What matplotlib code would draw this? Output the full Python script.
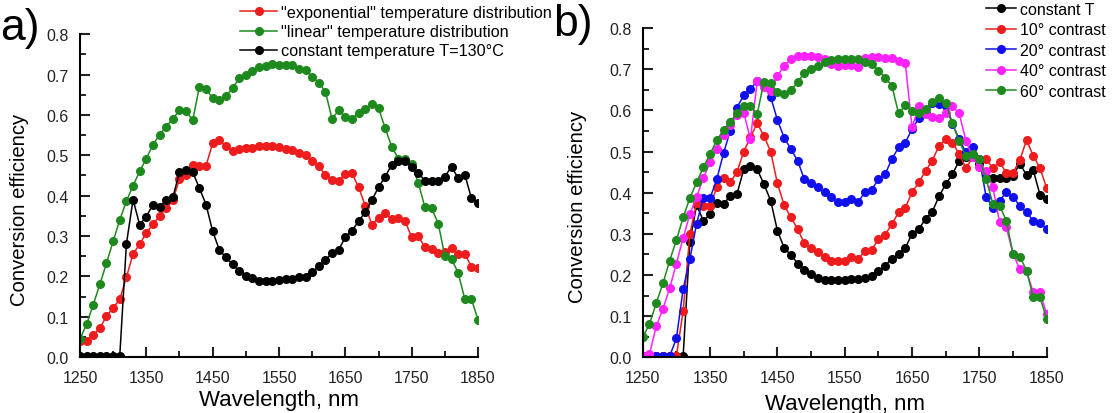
import numpy as np
import matplotlib
matplotlib.use("Agg")
import matplotlib.pyplot as plt
from matplotlib.ticker import MultipleLocator

plt.rcParams['font.family'] = ['Liberation Sans', 'DejaVu Sans']

wavelength = np.arange(1250, 1851, 10)

# panel a
exp_a = [0.04, 0.04, 0.055, 0.072, 0.101, 0.122, 0.143, 0.198, 0.255, 0.28,
         0.307, 0.329, 0.35, 0.369, 0.389, 0.441, 0.452, 0.476, 0.473, 0.474,
         0.530, 0.538, 0.522, 0.51, 0.515, 0.518, 0.518, 0.524, 0.524, 0.522,
         0.521, 0.515, 0.514, 0.505, 0.501, 0.485, 0.473, 0.45, 0.44, 0.437,
         0.454, 0.455, 0.421, 0.375, 0.328, 0.345, 0.356, 0.342, 0.345, 0.337,
         0.297, 0.299, 0.272, 0.268, 0.258, 0.261, 0.27, 0.256, 0.256, 0.224,
         0.22]
lin_a = [0.045, 0.081, 0.13, 0.18, 0.233, 0.287, 0.34, 0.386, 0.425, 0.46,
         0.492, 0.526, 0.551, 0.571, 0.59, 0.612, 0.609, 0.587, 0.67, 0.664,
         0.642, 0.637, 0.647, 0.666, 0.691, 0.70, 0.709, 0.718, 0.722, 0.726,
         0.724, 0.724, 0.724, 0.713, 0.712, 0.695, 0.68, 0.657, 0.59, 0.612,
         0.595, 0.591, 0.604, 0.614, 0.627, 0.617, 0.567, 0.521, 0.491, 0.492,
         0.478, 0.431, 0.371, 0.369, 0.331, 0.25, 0.243, 0.209, 0.144, 0.144,
         0.092]
const_a = [0.003, 0.003, 0.003, 0.003, 0.003, 0.003, 0.003, 0.28, 0.39, 0.328,
           0.348, 0.378, 0.371, 0.389, 0.396, 0.458, 0.464, 0.458, 0.419, 0.378,
           0.312, 0.266, 0.247, 0.23, 0.213, 0.202, 0.195, 0.188, 0.188, 0.188,
           0.19, 0.194, 0.194, 0.198, 0.198, 0.21, 0.225, 0.241, 0.257, 0.266,
           0.297, 0.313, 0.337, 0.359, 0.389, 0.421, 0.447, 0.477, 0.487, 0.487,
           0.472, 0.456, 0.437, 0.437, 0.437, 0.447, 0.472, 0.443, 0.452, 0.394,
           0.382]

# panel b
const_b = [0.003, 0.003, 0.003, 0.003, 0.003, 0.003, 0.003, 0.28, 0.37, 0.332,
           0.348, 0.376, 0.372, 0.393, 0.397, 0.457, 0.466, 0.457, 0.421, 0.381,
           0.308, 0.266, 0.249, 0.228, 0.212, 0.202, 0.194, 0.188, 0.188, 0.188,
           0.188, 0.19, 0.19, 0.194, 0.197, 0.209, 0.223, 0.24, 0.251, 0.266,
           0.3, 0.312, 0.336, 0.354, 0.391, 0.421, 0.445, 0.478, 0.488, 0.488,
           0.47, 0.437, 0.437, 0.437, 0.437, 0.441, 0.471, 0.443, 0.455, 0.395,
           0.385]
c10_b = [0.003, 0.003, 0.003, 0.003, 0.003, 0.003, 0.113, 0.30, 0.375, 0.368,
         0.368, 0.413, 0.436, 0.425, 0.451, 0.5, 0.535, 0.569, 0.538, 0.5,
         0.423, 0.37, 0.34, 0.312, 0.277, 0.266, 0.255, 0.245, 0.235, 0.233,
         0.235, 0.243, 0.239, 0.259, 0.261, 0.287, 0.298, 0.324, 0.352, 0.364,
         0.401, 0.425, 0.453, 0.478, 0.514, 0.53, 0.522, 0.494, 0.46, 0.486,
         0.482, 0.482, 0.46, 0.474, 0.449, 0.449, 0.479, 0.528, 0.49, 0.46,
         0.411]
c20_b = [0.003, 0.003, 0.003, 0.003, 0.003, 0.046, 0.166, 0.239, 0.325, 0.387,
         0.387, 0.433, 0.496, 0.551, 0.607, 0.637, 0.652, 0.672, 0.66, 0.633,
         0.577, 0.534, 0.506, 0.478, 0.433, 0.423, 0.413, 0.401, 0.389, 0.377,
         0.377, 0.385, 0.378, 0.401, 0.407, 0.433, 0.445, 0.482, 0.51, 0.522,
         0.555, 0.581, 0.595, 0.617, 0.615, 0.611, 0.567, 0.53, 0.498, 0.512,
         0.482, 0.39, 0.364, 0.381, 0.401, 0.39, 0.368, 0.352, 0.332, 0.326,
         0.312]
c40_b = [0.003, 0.008, 0.075, 0.118, 0.168, 0.228, 0.29, 0.348, 0.39, 0.436,
         0.474, 0.506, 0.54, 0.565, 0.59, 0.595, 0.53, 0.672, 0.656, 0.648,
         0.684, 0.709, 0.725, 0.733, 0.733, 0.733, 0.731, 0.725, 0.713, 0.709,
         0.711, 0.711, 0.706, 0.727, 0.729, 0.729, 0.727, 0.727, 0.721, 0.715,
         0.559, 0.61, 0.591, 0.583, 0.582, 0.595, 0.611, 0.593, 0.526, 0.486,
         0.462, 0.454, 0.413, 0.328, 0.316, 0.251, 0.215, 0.209, 0.158, 0.158,
         0.105]
c60_b = [0.049, 0.081, 0.131, 0.18, 0.235, 0.285, 0.34, 0.387, 0.425, 0.462,
         0.494, 0.528, 0.552, 0.573, 0.593, 0.611, 0.61, 0.591, 0.67, 0.666,
         0.644, 0.64, 0.649, 0.668, 0.692, 0.7, 0.709, 0.717, 0.722, 0.725,
         0.726, 0.724, 0.726, 0.718, 0.713, 0.697, 0.68, 0.66, 0.593, 0.613,
         0.598, 0.593, 0.603, 0.62, 0.63, 0.618, 0.569, 0.525, 0.49, 0.494,
         0.482, 0.433, 0.373, 0.369, 0.332, 0.251, 0.245, 0.211, 0.146, 0.146,
         0.093]

RED = '#ee1c1c'
GREEN = '#1e8a1e'
BLUE = '#1010ee'
MAGENTA = '#ff22ff'
BLACK = '#000000'


def style_axes(ax, xlab_y, ylab_x, ylab_y):
    ax.set_xlim(1250, 1850)
    ax.set_ylim(0, 0.8)
    ax.spines['top'].set_visible(False)
    ax.spines['right'].set_visible(False)
    ax.spines['left'].set_linewidth(1.5)
    ax.spines['bottom'].set_linewidth(1.5)
    ax.xaxis.set_major_locator(MultipleLocator(100))
    ax.xaxis.set_minor_locator(MultipleLocator(50))
    ax.yaxis.set_major_locator(MultipleLocator(0.1))
    ax.yaxis.set_minor_locator(MultipleLocator(0.05))
    ax.tick_params(which='major', direction='in', length=7, width=1.5,
                   labelsize=11.5, colors='#222222')
    ax.tick_params(axis='x', which='major', pad=9)
    ax.tick_params(axis='y', which='major', pad=8)
    ax.tick_params(which='minor', direction='in', length=4, width=1.2)
    ax.set_yticks(np.arange(0, 0.81, 0.1))
    ax.set_yticklabels(['%.1f' % v for v in np.arange(0, 0.81, 0.1)])
    ax.set_xticks(np.arange(1250, 1851, 100))
    ax.set_xlabel('Wavelength, nm', fontsize=16)
    ax.set_ylabel('Conversion efficiency', fontsize=14.6)
    ax.xaxis.set_label_coords(0.5, xlab_y)
    ax.xaxis.label.set_va('center')
    ax.yaxis.set_label_coords(ylab_x, ylab_y)
    ax.yaxis.label.set_va('center')


fig = plt.figure(figsize=(11.12, 4.14), dpi=100)
ax1 = fig.add_axes([0.0719, 0.135, 0.358, 0.780])
ax2 = fig.add_axes([0.578, 0.1345, 0.3633, 0.795])

kw = dict(marker='o', markersize=5.5, linewidth=1.1)

ax1.plot(wavelength, exp_a, color=RED, label='"exponential" temperature distribution', **kw)
ax1.plot(wavelength, lin_a, color=GREEN, label='"linear" temperature distribution', **kw)
ax1.plot(wavelength, const_a, color=BLACK, label='constant temperature T=130°C', **kw)
style_axes(ax1, -0.13, -0.151, 0.46)
ax1.legend(loc='upper left', bbox_to_anchor=(240 / 1112, 1 - 6 / 414),
           bbox_transform=fig.transFigure, frameon=False, fontsize=11.7,
           handlelength=2.3, handletextpad=0.25, labelspacing=0.26,
           borderpad=0, borderaxespad=0)

ax2.plot(wavelength, const_b, color=BLACK, label='constant T', **kw)
ax2.plot(wavelength, c10_b, color=RED, label='10° contrast', **kw)
ax2.plot(wavelength, c20_b, color=BLUE, label='20° contrast', **kw)
ax2.plot(wavelength, c40_b, color=MAGENTA, label='40° contrast', **kw)
ax2.plot(wavelength, c60_b, color=GREEN, label='60° contrast', **kw)
style_axes(ax2, -0.14, -0.161, 0.46)
ax2.legend(loc='upper left', bbox_to_anchor=(986 / 1112, 1 - 3 / 414),
           bbox_transform=fig.transFigure, frameon=False, fontsize=11.5,
           handlelength=1.9, handletextpad=0.2, labelspacing=0.34,
           borderpad=0, borderaxespad=0)

fig.text(0.0, 0.93, 'a)', fontsize=32, va='center', ha='left')
fig.text(0.497, 0.94, 'b)', fontsize=32, va='center', ha='left')

fig.savefig('out.png', dpi=100)
